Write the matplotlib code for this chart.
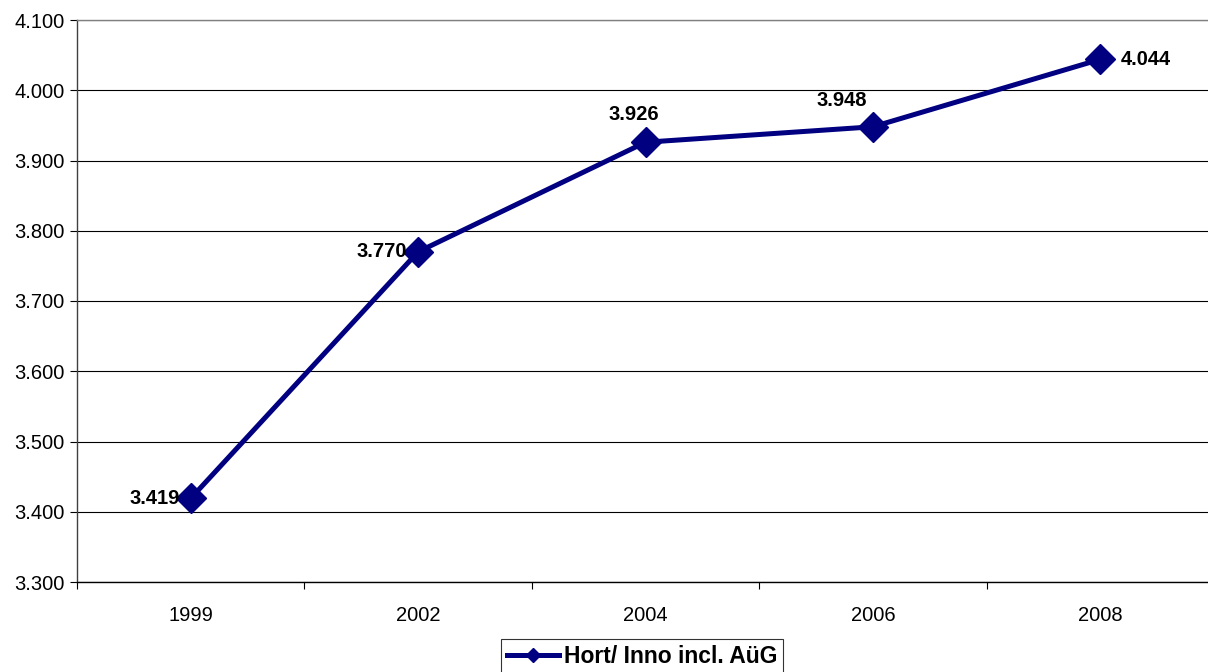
import matplotlib
matplotlib.use('Agg')
import matplotlib.pyplot as plt
from matplotlib.ticker import FixedLocator, FuncFormatter

plt.rcParams['font.family'] = ['Liberation Sans', 'DejaVu Sans']

years = ['1999', '2002', '2004', '2006', '2008']
values = [3.419, 3.770, 3.926, 3.948, 4.044]
series_name = 'Hort/ Inno incl. AüG'

# label placement per point: (dx, dy) in pixels, ha
label_pos = [(-11, 0, 'right'), (-11, 0, 'right'), (-12, 28, 'center'),
             (-31, 26, 'center'), (20, 0, 'left')]

W, H = 1208, 672
fig = plt.figure(figsize=(W / 100, H / 100), dpi=100)
ax = fig.add_axes([77 / W, 1 - 582 / H, (1214 - 77) / W, (582 - 20) / H])

x = list(range(len(years)))
ax.plot(x, values, color='#000080', linewidth=3.6, marker='D', markersize=15,
        markerfacecolor='#000080', markeredgecolor='#000080', label=series_name,
        zorder=3, clip_on=False)

for xi, v, (dx, dy, ha) in zip(x, values, label_pos):
    ax.annotate(f'{v:.3f}', (xi, v), xytext=(dx * 0.72, dy * 0.72),
                textcoords='offset points', ha=ha, va='center',
                fontsize=14.5, fontweight='bold', color='black')

ax.set_xlim(-0.5, len(years) - 0.5)
ax.set_ylim(3.3, 4.1)
ax.set_yticks([3.3 + 0.1 * i for i in range(9)])
ax.yaxis.set_major_formatter(FuncFormatter(lambda v, p: f'{v:.3f}'))
ax.yaxis.grid(True, color='black', linewidth=0.8)
ax.set_axisbelow(True)

# category labels centred, tick marks on category boundaries
ax.set_xticks(x)
ax.set_xticklabels(years)
ax.xaxis.set_minor_locator(FixedLocator([i - 0.5 for i in range(len(years) + 1)]))
ax.tick_params(axis='x', which='major', length=0, pad=17, labelsize=14.5)
ax.tick_params(axis='x', which='minor', length=5, width=0.8, color='black', direction='out')
ax.tick_params(axis='y', length=5, width=0.8, color='black', pad=4, labelsize=14.5)

ax.spines['right'].set_visible(False)
ax.spines['top'].set_color('#808080')
ax.spines['top'].set_linewidth(1.0)
ax.spines['left'].set_color('#404040')
ax.spines['left'].set_linewidth(1.0)
ax.spines['bottom'].set_color('black')
ax.spines['bottom'].set_linewidth(1.0)

leg = fig.legend(loc='upper center', bbox_to_anchor=(642 / W, 1 - 639 / H),
                 prop={'weight': 'bold', 'size': 16.5}, frameon=True, fancybox=False,
                 borderpad=0.25, handlelength=2.3, handletextpad=0.2,
                 borderaxespad=0, markerscale=0.45)
leg.get_frame().set_edgecolor('black')
leg.get_frame().set_linewidth(0.8)

fig.savefig('out.png', dpi=100)
